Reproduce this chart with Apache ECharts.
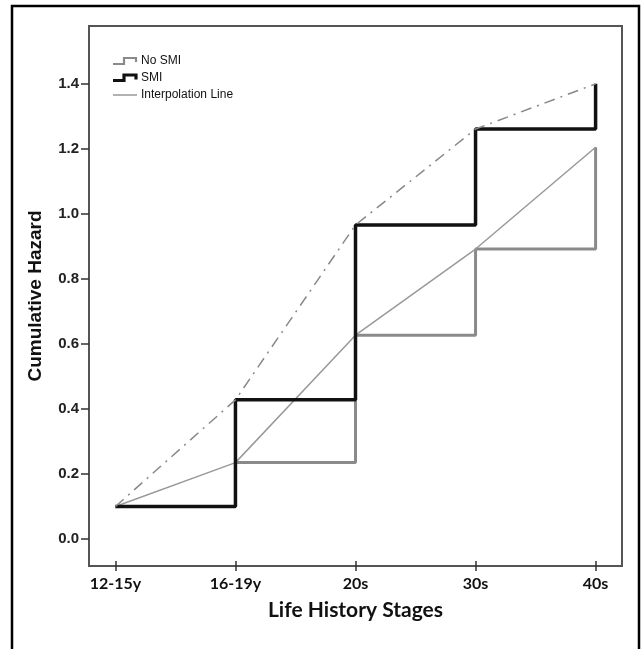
<!DOCTYPE html>
<html>
<head>
<meta charset="utf-8">
<script src="https://cdn.jsdelivr.net/npm/echarts@6/dist/echarts.min.js"></script>
<style>
html,body{margin:0;padding:0;background:#fff;}
#chart{width:641px;height:649px;}
</style>
</head>
<body>
<div id="chart"></div>
<script>
// ---- data ----
var stages = ['12-15y', '16-19y', '20s', '30s', '40s'];
var stagePositions = [0, 1, 2, 3, 4];
var noSMI = [0.10, 0.235, 0.627, 0.892, 1.205];
var smi = [0.10, 0.428, 0.966, 1.261, 1.400];
var yTicks = [0.0, 0.2, 0.4, 0.6, 0.8, 1.0, 1.2, 1.4];
var legendNames = ['No SMI', 'SMI', 'Interpolation Line'];

function pairs(vals) {
  return stagePositions.map(function (x, i) { return [x, vals[i]]; });
}

var chart = echarts.init(document.getElementById('chart'), null, {renderer: 'canvas'});

// legend drawn as graphic (step-shaped keys)
var lgX = 113, lgY = [61, 78, 95];
var legendGraphic = {
  type: 'group', silent: true, z: 50,
  children: [
    {type: 'polyline', shape: {points: [[lgX, lgY[0] + 3], [lgX + 11, lgY[0] + 3], [lgX + 11, lgY[0] - 3], [lgX + 23, lgY[0] - 3], [lgX + 23, lgY[0] + 1]]},
     style: {stroke: '#8a8a8a', lineWidth: 2.2, fill: null}},
    {type: 'polyline', shape: {points: [[lgX, lgY[1] + 2.5], [lgX + 11, lgY[1] + 2.5], [lgX + 11, lgY[1] - 3], [lgX + 23, lgY[1] - 3], [lgX + 23, lgY[1] + 1.5]]},
     style: {stroke: '#111', lineWidth: 3.2, fill: null}},
    {type: 'line', shape: {x1: lgX, y1: lgY[2], x2: lgX + 24, y2: lgY[2]},
     style: {stroke: '#999', lineWidth: 1.5}}
  ].concat(legendNames.map(function (n, i) {
    return {type: 'text', style: {text: n, x: lgX + 28, y: lgY[i], verticalAlign: 'middle', align: 'left',
      fill: '#111', fontSize: 12, fontFamily: 'Liberation Sans'}};
  }))
};

var xMin = -0.22, xMax = 4.22;
var option = {
  animation: false,
  backgroundColor: '#ffffff',
  graphic: [{
    type: 'rect',
    shape: {x: 12, y: 6, width: 627, height: 720},
    style: {fill: 'none', stroke: '#000', lineWidth: 2.5},
    silent: true,
    z: 100
  }, legendGraphic],
  grid: {
    left: 89, right: 19, top: 26, bottom: 83,
    show: true, borderColor: '#555', borderWidth: 2, backgroundColor: 'transparent'
  },
  xAxis: [{
    type: 'value', min: xMin, max: xMax,
    name: 'Life History Stages', nameLocation: 'middle', nameGap: 34,
    nameTextStyle: {fontFamily: 'Lato', fontWeight: 'bold', fontSize: 21, color: '#111'},
    splitLine: {show: false},
    axisLine: {show: true, onZero: false, lineStyle: {color: '#555', width: 2}},
    axisTick: {show: true, customValues: stagePositions, length: 5, lineStyle: {color: '#333', width: 1.5}},
    axisLabel: {
      customValues: stagePositions, margin: 10,
      fontFamily: 'Lato', fontWeight: 'bold', fontSize: 16, color: '#111',
      formatter: function (v) { return stages[Math.round(v)]; }
    }
  }, {
    type: 'value', min: xMin, max: xMax, position: 'bottom', offset: 0,
    splitLine: {show: false},
    axisLine: {show: false, onZero: false},
    axisTick: {show: true, inside: true, customValues: stagePositions, length: 5, lineStyle: {color: '#333', width: 1.5}},
    axisLabel: {show: false}
  }],
  yAxis: {
    type: 'value', min: -0.083, max: 1.578,
    name: 'Cumulative Hazard', nameLocation: 'middle', nameGap: 44,
    nameTextStyle: {fontFamily: 'Liberation Sans', fontWeight: 'bold', fontSize: 19, color: '#111'},
    splitLine: {show: false},
    axisLine: {show: true, onZero: false, lineStyle: {color: '#555', width: 2}},
    axisTick: {show: true, customValues: yTicks, length: 8, lineStyle: {color: '#333', width: 1.5}},
    axisLabel: {
      customValues: yTicks, margin: 10,
      fontFamily: 'Liberation Sans', fontWeight: 'bold', fontSize: 15, color: '#222',
      formatter: function (v) { return v.toFixed(1); }
    }
  },
  series: [{
    name: 'No SMI', type: 'line', step: 'end', data: pairs(noSMI),
    showSymbol: false, symbol: 'none', color: '#8a8a8a',
    lineStyle: {color: '#8a8a8a', width: 3}, z: 2
  }, {
    name: 'Interpolation Line', type: 'line', data: pairs(noSMI),
    showSymbol: false, symbol: 'none', color: '#999999',
    lineStyle: {color: '#999999', width: 1.5}, z: 3
  }, {
    name: 'SMI', type: 'line', step: 'end', data: pairs(smi),
    showSymbol: false, symbol: 'none', color: '#111111',
    lineStyle: {color: '#111111', width: 3.5}, z: 4
  }, {
    name: 'SMI trend', type: 'line', data: pairs(smi),
    showSymbol: false, symbol: 'none', color: '#888888',
    lineStyle: {color: '#888888', width: 1.5, type: [11, 6, 2, 6]}, z: 5
  }]
};
chart.setOption(option);
</script>
</body>
</html>
